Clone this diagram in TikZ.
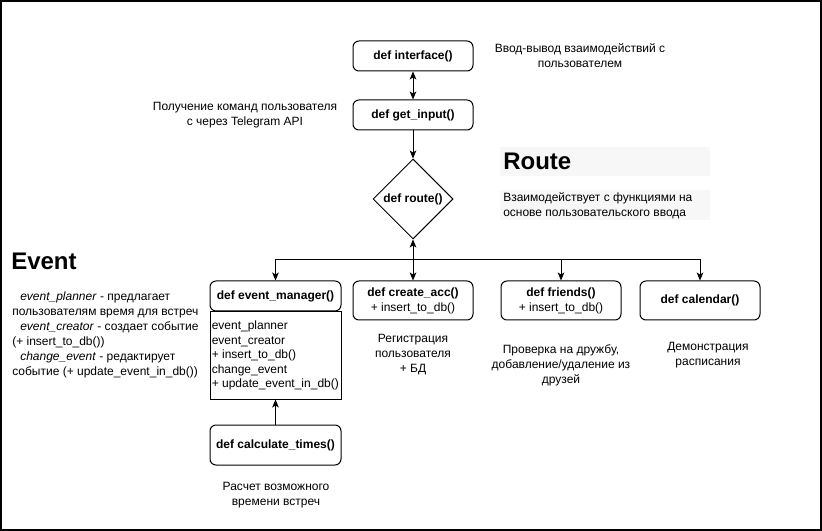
\documentclass[tikz,border=0pt]{standalone}
\usepackage{fontspec}
\setmainfont{Liberation Sans}
\usetikzlibrary{shapes.geometric,arrows.meta}
\tikzset{
  box/.style={draw, rounded corners=4.5pt, minimum width=90pt, minimum height=22.5pt, font=\fontsize{9}{11.25}\selectfont, align=center, inner sep=0pt, line width=0.75pt},
  txt/.style={font=\fontsize{9}{11.25}\selectfont, align=center, inner sep=0pt},
  ltxt/.style={font=\fontsize{9}{11.25}\selectfont, align=left, inner sep=0pt},
  conn/.style={line width=0.75pt, -{Stealth[length=6pt,width=5pt,inset=1.5pt]}},
  dconn/.style={line width=0.75pt, {Stealth[length=6pt,width=5pt,inset=1.5pt]}-{Stealth[length=6pt,width=5pt,inset=1.5pt]}},
  heading/.style={font=\fontsize{18}{22}\selectfont\bfseries, inner sep=0pt},
  shade/.style={fill=black!3, draw=none, inner sep=0pt}
}
\begin{document}
\begin{tikzpicture}[x=0.75pt,y=-0.75pt]
\useasboundingbox (0,0) rectangle (822,531);
\draw[line width=1.5pt] (1,1) rectangle (821,530);

% main flow
\node[box] (iface) at (413,56) {\textbf{def interface()}};
\node[box] (getin) at (413,115) {\textbf{def get\_input()}};
\node[draw, diamond, line width=0.75pt, minimum width=60pt, minimum height=60pt, inner sep=0pt, font=\fontsize{9}{11.25}\selectfont\bfseries] (route) at (413,199) {def route()};

\node[box, minimum width=98.25pt] (em) at (275.5,296) {\textbf{def event\_manager()}};
\node[draw, line width=0.75pt, anchor=north, minimum width=98.25pt, minimum height=65.25pt, inner sep=0pt] (emb) at (em.south) {};
\node[ltxt, anchor=west, font=\fontsize{9}{10.9}\selectfont] (embt) at ([xshift=1.5pt]emb.west) {event\_planner\\event\_creator\\+ insert\_to\_db()\\change\_event\\+ update\_event\_in\_db()};

\node[box, minimum height=29.25pt] (ca) at (413,300.5) {\textbf{def create\_acc()}\\+ insert\_to\_db()};
\node[box, minimum height=29.25pt] (fr) at (561,300.5) {\textbf{def friends()}\\+ insert\_to\_db()};
\node[box, minimum height=29.25pt] (cal) at (700,300.5) {\textbf{def calendar()}};
\node[box, minimum width=98.25pt, minimum height=30pt] (calc) at (275.5,445) {\textbf{def calculate\_times()}};

\coordinate (j) at (413,260);

\draw[dconn] (iface.south) -- (getin.north);
\draw[conn] (getin.south) -- (route.north);
\draw[dconn] (route.south) -- (ca.north);
\draw[conn] (j) -| (em.north);
\draw[conn] (j) -| (fr.north);
\draw[conn] (j) -| (cal.north);
\draw[conn] (calc.north) -- (emb.south);

% annotations
\node[txt] (t1) at (580,56) {Ввод-вывод взаимодействий с\\пользователем};
\node[txt] (t2) at (245,115) {Получение команд пользователя\\с через Telegram API};

\node[shade, anchor=north west, minimum width=157.5pt, minimum height=21.75pt] (rbg) at (500,147) {};
\node[heading, anchor=west] (rh) at (503,161) {Route};
\node[shade, anchor=north west, minimum width=157.5pt, minimum height=22.5pt] (rdbg) at (500,190) {};
\node[ltxt, anchor=west] (rd) at (503,205.5) {Взаимодействует с функциями на\\основе пользовательского ввода};

\node[heading, anchor=west] (eh) at (11,261) {Event};
\node[ltxt, anchor=west] (ed) at (12,335) {\hspace{6pt}\textit{event\_planner} - предлагает\\пользователям время для встреч\\\hspace{6pt}\textit{event\_creator} - создает событие\\(+ insert\_to\_db())\\\hspace{6pt}\textit{change\_event} - редактирует\\событие (+ update\_event\_in\_db())};

\node[txt] (t3) at (413,355) {Регистрация\\пользователя\\+ БД};
\node[txt] (t4) at (561,365) {Проверка на дружбу,\\добавление/удаление из\\друзей};
\node[txt] (t5) at (708,355.5) {Демонстрация\\расписания};
\node[txt] (t6) at (276,495.5) {Расчет возможного\\времени встреч};
\end{tikzpicture}
\end{document}
